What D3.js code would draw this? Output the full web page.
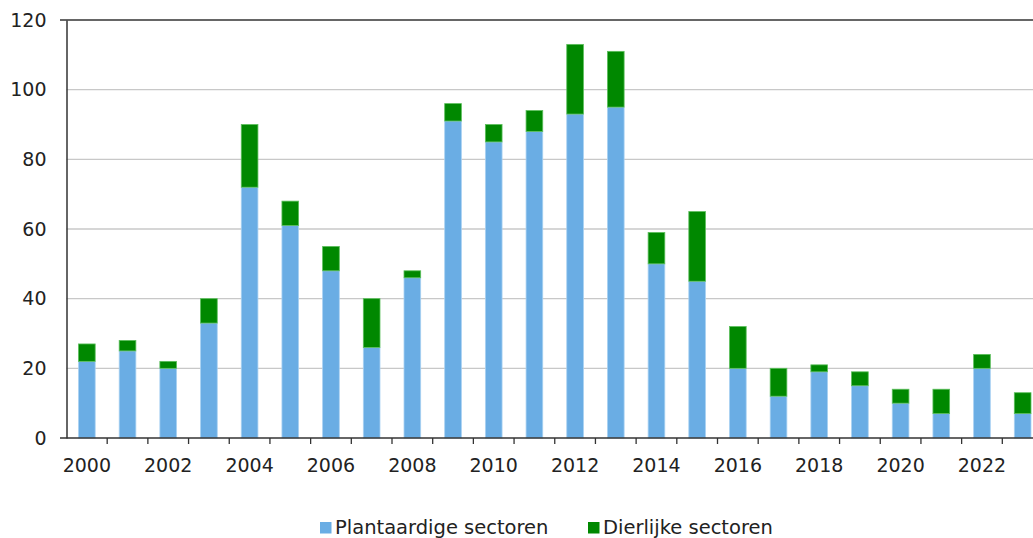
<!DOCTYPE html>
<html>
<head>
<meta charset="utf-8">
<style>
  body { margin: 0; background: #fff; }
  svg text { font-family: "DejaVu Sans", Verdana, sans-serif; fill: #222; }
</style>
<script src="https://cdn.jsdelivr.net/npm/d3@7"></script>
</head>
<body>
<script>
var years = ["2000","2001","2002","2003","2004","2005","2006","2007","2008","2009","2010","2011",
             "2012","2013","2014","2015","2016","2017","2018","2019","2020","2021","2022","2023"];
var plantaardig = [22, 25, 20, 33, 72, 61, 48, 26, 46, 91, 85, 88, 93, 95, 50, 45, 20, 12, 19, 15, 10, 7, 20, 7];
var dierlijk    = [5, 3, 2, 7, 18, 7, 7, 14, 2, 5, 5, 6, 20, 16, 9, 20, 12, 8, 2, 4, 4, 7, 4, 6];
var yTicks = [0, 20, 40, 60, 80, 100, 120];
var seriesNames = ["Plantaardige sectoren", "Dierlijke sectoren"];
var colors = ["#6aade4", "#008800"];
var strokes = ["#a9d1f2", "#5cbf5c"];

var W = 1033, H = 538;
var plotLeft = 66.5, plotTop = 20, plotBottom = 438, plotRight = 1043;

var svg = d3.select("body").append("svg")
    .attr("width", W)
    .attr("height", H);

var x = d3.scaleBand().domain(years).range([plotLeft, plotRight]).paddingInner(0.59).paddingOuter(0.295);
var xb = d3.scaleBand().domain(years).range([plotLeft, plotRight]);
var y = d3.scaleLinear().domain([0, 120]).range([plotBottom, plotTop]);

// gridlines
svg.append("g")
  .selectAll("line")
  .data(yTicks.filter(function(d) { return d > 0 && d < 120; }))
  .enter().append("line")
    .attr("x1", plotLeft).attr("x2", W)
    .attr("y1", function(d) { return y(d); })
    .attr("y2", function(d) { return y(d); })
    .attr("stroke", "#c8c8c8")
    .attr("stroke-width", 1.3);

// stacked bars
var rows = years.map(function(yr, i) { return {year: yr, p: plantaardig[i], d: dierlijk[i]}; });
var stack = d3.stack().keys(["p", "d"])(rows);

svg.append("g").selectAll("g")
  .data(stack)
  .enter().append("g")
    .attr("fill", function(d, i) { return colors[i]; })
    .attr("stroke", function(d, i) { return strokes[i]; })
    .attr("stroke-width", 0.8)
  .selectAll("rect")
  .data(function(d) { return d; })
  .enter().append("rect")
    .attr("x", function(d) { return x(d.data.year); })
    .attr("width", x.bandwidth())
    .attr("y", function(d) { return y(d[1]); })
    .attr("height", function(d) { return y(d[0]) - y(d[1]); });

// top border
svg.append("line")
  .attr("x1", 60).attr("x2", W)
  .attr("y1", y(120)).attr("y2", y(120))
  .attr("stroke", "#333").attr("stroke-width", 1.5);

// y axis
var yAxis = svg.append("g")
  .attr("transform", "translate(" + plotLeft + ",0)")
  .call(d3.axisLeft(y).tickValues(yTicks).tickSize(0).tickPadding(20));
yAxis.select(".domain").attr("stroke", "#333").attr("stroke-width", 1.5);
yAxis.selectAll("text").style("font-size", "19px").attr("fill", "#222");

// x axis
var xAxis = svg.append("g")
  .attr("transform", "translate(0," + plotBottom + ")");
xAxis.append("line")
  .attr("x1", 60).attr("x2", W)
  .attr("stroke", "#333").attr("stroke-width", 1.5);
xAxis.selectAll(".tk")
  .data(years.slice(1))
  .enter().append("line")
    .attr("class", "tk")
    .attr("x1", function(d) { return xb(d); })
    .attr("x2", function(d) { return xb(d); })
    .attr("y1", 0).attr("y2", 6)
    .attr("stroke", "#333").attr("stroke-width", 1.3);
xAxis.selectAll("text")
  .data(years.filter(function(d, i) { return i % 2 === 0; }))
  .enter().append("text")
    .attr("x", function(d) { return xb(d) + xb.bandwidth() / 2; })
    .attr("y", 34)
    .attr("text-anchor", "middle")
    .style("font-size", "19px")
    .text(function(d) { return d; });

// legend
var legend = svg.append("g").attr("transform", "translate(0,534)");
var lx = [320, 588];
seriesNames.forEach(function(name, i) {
  legend.append("rect")
    .attr("x", lx[i]).attr("y", -12)
    .attr("width", 11.5).attr("height", 11.5)
    .attr("fill", colors[i]);
  legend.append("text")
    .attr("x", lx[i] + 15).attr("y", 0)
    .style("font-size", "19.5px")
    .text(name);
});
</script>
</body>
</html>
